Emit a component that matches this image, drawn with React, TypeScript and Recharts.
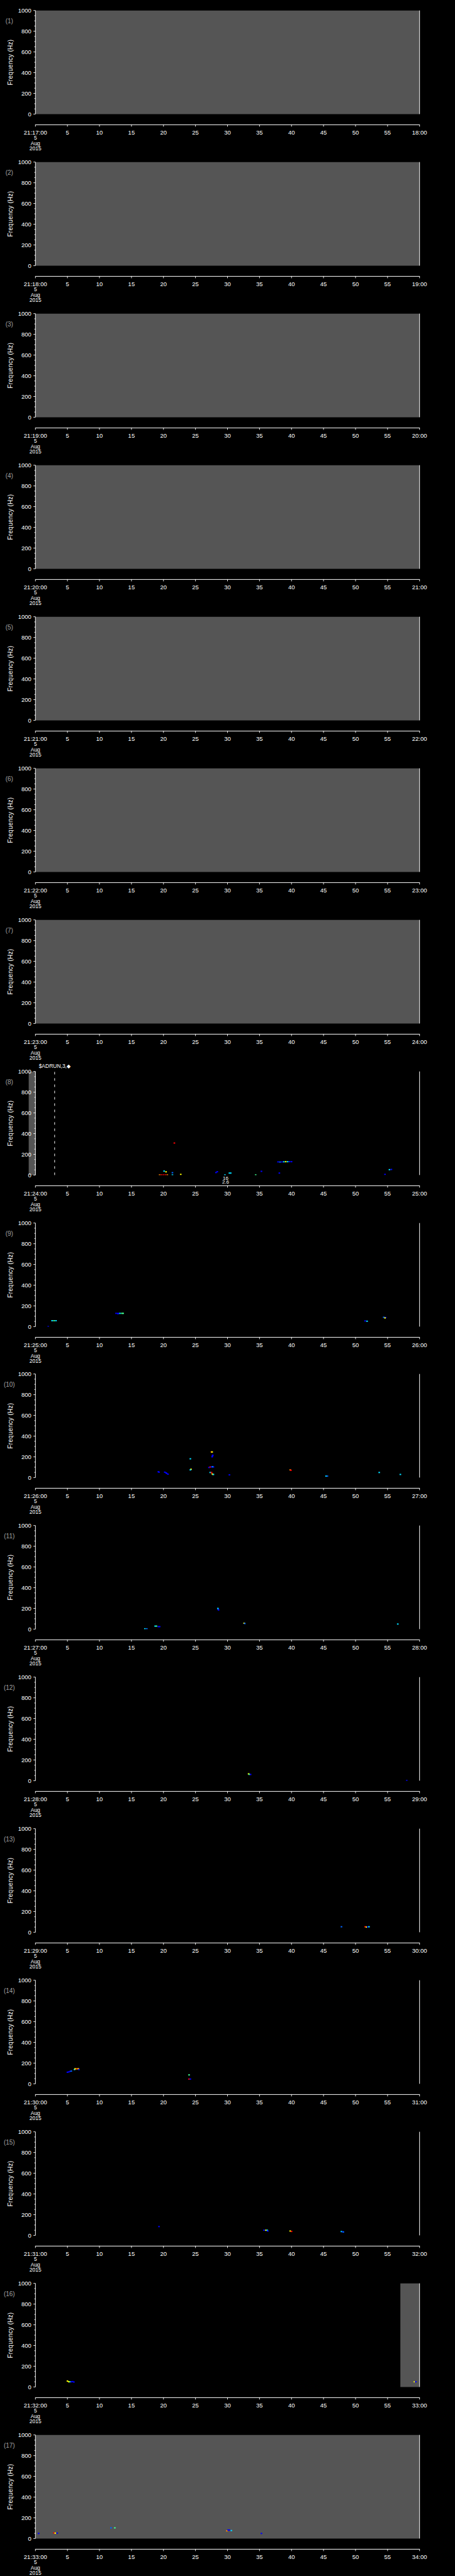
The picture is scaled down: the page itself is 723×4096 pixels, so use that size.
import React from 'react';
import { ScatterChart, Scatter, XAxis, YAxis, ReferenceArea, ReferenceLine } from 'recharts';

const W = 723;
const PANEL_H = 4096 / 17;
const FONT = '"Liberation Sans", Arial, sans-serif';
const PLOT_TOP = 16.7;
const PLOT_H = 164.7;
const PLOT_LEFT = 56.3;
const PLOT_RIGHT = 666.7;
const AXIS_GAP = 17;

const panelMinutes = [17, 18, 19, 20, 21, 22, 23, 24, 25, 26, 27, 28, 29, 30, 31, 32, 33];
const grayPanels = [1, 2, 3, 4, 5, 6, 7, 17];
const xTicks = [0, 5, 10, 15, 20, 25, 30, 35, 40, 45, 50, 55, 60];
const yTicks = [0, 50, 100, 150, 200, 250, 300, 350, 400, 450, 500, 550, 600, 650, 700, 750, 800, 850, 900, 950, 1000];
const yLabelTicks = [0, 200, 400, 600, 800, 1000];
const dateLines = ['5', 'Aug', '2015'];
const intensityColors = ['#000000', '#0000ff', '#0064ff', '#00dcff', '#40ff90', '#ffff00', '#ff8000', '#ff0000'];

// partial no-data (gray) spans in seconds
const panel8Gap = { t1: -1.05, t2: 0 };
const panel16Gap = { t1: 57, t2: 60 };
// panel 8 annotations
const panel8Marker = { t: 3.0, text: '$ADRUN,3,\u25C6' };
const panel8Note = { t: 29.7, lines: ['16', '2.6'] };

type Dot = { t: number; f: number; v: number };

const p8Dots: Dot[] = [
  { t: 21.7, f: 309, v: 7 },
  { t: 19.4, f: 1, v: 6 }, { t: 19.7, f: 1, v: 7 }, { t: 20.0, f: 1, v: 7 }, { t: 20.3, f: 1, v: 7 }, { t: 20.6, f: 1, v: 6 },
  { t: 21.4, f: 1, v: 3 },
  { t: 20.1, f: 38, v: 3 }, { t: 20.4, f: 31, v: 5 },
  { t: 21.4, f: 23, v: 2 },
  { t: 22.7, f: 6, v: 5 },
  { t: 28.2, f: 24, v: 1 }, { t: 28.4, f: 32, v: 1 },
  { t: 29.6, f: 1, v: 3 },
  { t: 30.3, f: 19, v: 3 }, { t: 30.5, f: 19, v: 3 },
  { t: 34.4, f: 1, v: 4 },
  { t: 35.3, f: 36, v: 1 },
  { t: 38.1, f: 19, v: 1 },
  { t: 37.9, f: 127, v: 1 }, { t: 38.2, f: 126, v: 2 }, { t: 38.5, f: 127, v: 1 }, { t: 38.8, f: 128, v: 3 },
  { t: 39.1, f: 129, v: 5 }, { t: 39.4, f: 129, v: 3 }, { t: 39.7, f: 129, v: 1 }, { t: 40.0, f: 129, v: 1 },
  { t: 54.6, f: 6, v: 1 },
  { t: 55.3, f: 52, v: 3 }, { t: 55.6, f: 54, v: 1 },
];

const p9Dots: Dot[] = [
  { t: 2.0, f: 0, v: 1 },
  { t: 2.6, f: 57, v: 3 }, { t: 2.9, f: 57, v: 4 }, { t: 3.2, f: 57, v: 3 },
  { t: 12.6, f: 128, v: 1 }, { t: 12.9, f: 128, v: 1 }, { t: 12.9, f: 124, v: 1 }, { t: 13.2, f: 128, v: 3 },
  { t: 13.5, f: 128, v: 4 }, { t: 13.7, f: 128, v: 4 },
  { t: 51.5, f: 55, v: 1 }, { t: 51.8, f: 52, v: 3 },
  { t: 54.4, f: 90, v: 2 }, { t: 54.7, f: 88, v: 1 }, { t: 54.6, f: 84, v: 5 },
];

const p10Dots: Dot[] = [
  { t: 19.2, f: 56, v: 1 }, { t: 19.3, f: 52, v: 1 },
  { t: 20.2, f: 52, v: 1 }, { t: 20.4, f: 46, v: 1 }, { t: 20.5, f: 40, v: 1 }, { t: 20.7, f: 33, v: 1 },
  { t: 24.2, f: 181, v: 3 },
  { t: 24.3, f: 80, v: 5 }, { t: 24.2, f: 74, v: 3 },
  { t: 27.1, f: 97, v: 1 }, { t: 27.3, f: 102, v: 7 }, { t: 27.5, f: 103, v: 1 }, { t: 27.7, f: 104, v: 3 }, { t: 27.8, f: 102, v: 1 },
  { t: 27.5, f: 247, v: 6 }, { t: 27.6, f: 247, v: 5 },
  { t: 27.6, f: 200, v: 1 }, { t: 27.65, f: 208, v: 1 }, { t: 27.7, f: 216, v: 1 },
  { t: 27.3, f: 49, v: 3 }, { t: 27.5, f: 49, v: 7 },
  { t: 27.6, f: 36, v: 6 }, { t: 27.7, f: 31, v: 5 }, { t: 27.8, f: 30, v: 3 },
  { t: 30.3, f: 26, v: 1 },
  { t: 39.8, f: 74, v: 6 }, { t: 39.9, f: 70, v: 7 },
  { t: 45.4, f: 14, v: 3 }, { t: 45.6, f: 14, v: 2 },
  { t: 53.7, f: 49, v: 3 },
  { t: 57.0, f: 30, v: 3 },
];

const p11Dots: Dot[] = [
  { t: 17.1, f: 3, v: 3 }, { t: 17.4, f: 3, v: 2 },
  { t: 18.7, f: 29, v: 3 }, { t: 18.9, f: 29, v: 4 },
  { t: 19.2, f: 24, v: 1 }, { t: 19.4, f: 24, v: 1 },
  { t: 28.5, f: 200, v: 3 }, { t: 28.55, f: 192, v: 2 }, { t: 28.6, f: 185, v: 1 },
  { t: 32.6, f: 57, v: 5 }, { t: 32.7, f: 54, v: 2 },
  { t: 56.6, f: 49, v: 3 },
];

const p12Dots: Dot[] = [
  { t: 33.3, f: 66, v: 5 }, { t: 33.4, f: 61, v: 4 }, { t: 33.6, f: 60, v: 1 },
  { t: 58.0, f: 1, v: 1 },
];

const p13Dots: Dot[] = [
  { t: 47.8, f: 53, v: 2 },
  { t: 51.5, f: 53, v: 7 }, { t: 51.7, f: 50, v: 5 }, { t: 51.9, f: 52, v: 1 }, { t: 52.1, f: 53, v: 3 },
];

const p14Dots: Dot[] = [
  { t: 5.0, f: 112, v: 1 }, { t: 5.2, f: 115, v: 1 }, { t: 5.4, f: 120, v: 1 }, { t: 5.6, f: 123, v: 2 },
  { t: 6.1, f: 138, v: 3 }, { t: 6.2, f: 145, v: 5 }, { t: 6.4, f: 145, v: 6 }, { t: 6.6, f: 145, v: 7 },
  { t: 6.7, f: 145, v: 5 }, { t: 6.8, f: 138, v: 1 },
  { t: 24.0, f: 86, v: 4 },
  { t: 24.0, f: 46, v: 7 }, { t: 24.2, f: 46, v: 1 },
];

const p15Dots: Dot[] = [
  { t: 19.3, f: 85, v: 1 },
  { t: 35.7, f: 50, v: 1 }, { t: 36.0, f: 50, v: 5 }, { t: 36.2, f: 50, v: 3 }, { t: 36.3, f: 42, v: 1 },
  { t: 39.8, f: 42, v: 5 }, { t: 40.0, f: 38, v: 7 },
  { t: 47.8, f: 37, v: 3 }, { t: 48.0, f: 35, v: 1 }, { t: 48.1, f: 33, v: 2 },
];

const p16Dots: Dot[] = [
  { t: 5.0, f: 57, v: 5 }, { t: 5.2, f: 50, v: 5 }, { t: 5.4, f: 50, v: 4 }, { t: 5.6, f: 50, v: 1 },
  { t: 5.8, f: 52, v: 1 }, { t: 6.0, f: 48, v: 1 },
  { t: 59.2, f: 50, v: 5 }, { t: 59.4, f: 50, v: 1 },
];

const p17Dots: Dot[] = [
  { t: 0.5, f: 49, v: 1 },
  { t: 2.9, f: 54, v: 7 }, { t: 3.1, f: 52, v: 5 }, { t: 3.4, f: 52, v: 1 },
  { t: 11.8, f: 103, v: 2 }, { t: 12.4, f: 103, v: 4 },
  { t: 29.9, f: 74, v: 6 }, { t: 30.1, f: 82, v: 1 }, { t: 30.3, f: 82, v: 1 }, { t: 30.6, f: 77, v: 3 },
  { t: 35.3, f: 49, v: 1 },
];

const panelDots: Record<number, Dot[]> = {
  8: p8Dots, 9: p9Dots, 10: p10Dots, 11: p11Dots, 12: p12Dots, 13: p13Dots,
  14: p14Dots, 15: p15Dots, 16: p16Dots, 17: p17Dots,
};

const PixelShape = (props: any) => {
  const { cx, cy, payload } = props;
  if (cx == null || cy == null) return null;
  return <rect x={cx - 1.3} y={cy - 1} width={2.6} height={2} fill={intensityColors[payload.v]} />;
};

const LeftTick = (props: any) => {
  const { x, y, payload } = props;
  const major = yLabelTicks.includes(payload.value);
  return (
    <g>
      <line x1={x} x2={x - (major ? 3.2 : 1.8)} y1={y} y2={y} stroke="#fff" strokeWidth={0.9} />
      {major && (
        <text x={x - 6.5} y={y} dy="0.36em" textAnchor="end" fill="#fff" fontSize={9.5} fontFamily={FONT}>
          {payload.value}
        </text>
      )}
    </g>
  );
};

const RightTick = (props: any) => {
  const { x, y, payload } = props;
  const major = yLabelTicks.includes(payload.value);
  return <line x1={x} x2={x - (major ? 3.2 : 1.8)} y1={y} y2={y} stroke="#fff" strokeWidth={0.9} />;
};

const X_STEP = (PLOT_RIGHT - PLOT_LEFT) / (xTicks.length - 1);

const makeXTick = (minute: number) => (props: any) => {
  const { x, y, payload, index } = props;
  const v = payload.value;
  const ay = y + AXIS_GAP;
  const label = v === 0 ? `21:${minute}:00` : v === 60 ? `${minute + 1}:00` : String(v);
  const isLast = index === xTicks.length - 1;
  return (
    <g>
      {!isLast && <line x1={x - 0.45} x2={x + X_STEP + 0.45} y1={ay} y2={ay} stroke="#fff" strokeWidth={1} />}
      <line x1={x} x2={x} y1={ay} y2={ay + 3} stroke="#fff" strokeWidth={0.9} />
      <text x={x} y={ay + 12.2} dy="0.36em" textAnchor="middle" fill="#fff" fontSize={9.5} fontFamily={FONT}>
        {label}
      </text>
      {v === 0 &&
        dateLines.map((d, i) => (
          <text key={i} x={x} y={ay + 20.8 + i * 8.4} dy="0.36em" textAnchor="middle" fill="#fff" fontSize={8.5} fontFamily={FONT}>
            {d}
          </text>
        ))}
    </g>
  );
};

const makeYLabel = (n: number) => (props: any) => {
  const vb = props.viewBox || {};
  const top = vb.y ?? PLOT_TOP;
  const h = vb.height ?? PLOT_H;
  const cy = top + h / 2;
  return (
    <g>
      <text x={14.8} y={top + 16.8} dy="0.36em" textAnchor="middle" fill="#a0a0a0" fontSize={10} fontFamily={FONT}>
        {`(${n})`}
      </text>
      <text
        x={16.1}
        y={cy}
        dy="0.36em"
        textAnchor="middle"
        fill="#fff"
        fontSize={10}
        fontFamily={FONT}
        letterSpacing={0.3}
        transform={`rotate(-90 16.1 ${cy})`}
      >
        Frequency (Hz)
      </text>
    </g>
  );
};

const Panel = ({ idx }: { idx: number }) => {
  const n = idx + 1;
  const minute = panelMinutes[idx];
  const dots = panelDots[n] || [];
  const gray = grayPanels.includes(n);
  return (
    <div style={{ position: 'absolute', left: 0, top: idx * PANEL_H, width: W, height: PANEL_H }}>
      <ScatterChart
        width={W}
        height={PANEL_H}
        margin={{ top: PLOT_TOP, right: W - PLOT_RIGHT - 1, bottom: 0, left: 0 }}
      >
        <XAxis
          xAxisId="main"
          type="number"
          dataKey="t"
          domain={[0, 60]}
          ticks={xTicks}
          interval={0}
          allowDataOverflow
          height={PANEL_H - PLOT_TOP - PLOT_H}
          tickSize={0}
          tickMargin={0}
          tickLine={false}
          axisLine={false}
          tick={makeXTick(minute)}
        />
        <YAxis
          yAxisId="left"
          type="number"
          dataKey="f"
          domain={[0, 1000]}
          ticks={yTicks}
          interval={0}
          allowDataOverflow
          width={PLOT_LEFT}
          tickSize={0}
          tickMargin={0}
          tickLine={false}
          axisLine={{ stroke: '#fff', strokeWidth: 1 }}
          tick={LeftTick}
          label={{ content: makeYLabel(n) }}
        />
        <YAxis
          yAxisId="right"
          orientation="right"
          type="number"
          domain={[0, 1000]}
          ticks={yTicks}
          interval={0}
          width={1}
          tickSize={0}
          tickMargin={0}
          tickLine={false}
          axisLine={{ stroke: '#fff', strokeWidth: 1 }}
          tick={RightTick}
        />
        {gray && (
          <ReferenceArea xAxisId="main" yAxisId="left" x1={0} x2={60} y1={0} y2={1000} fill="#555555" fillOpacity={1} stroke="none" ifOverflow="visible" />
        )}
        {n === 8 && (
          <ReferenceArea xAxisId="main" yAxisId="left" x1={panel8Gap.t1} x2={panel8Gap.t2} y1={0} y2={1000} fill="#555555" fillOpacity={1} stroke="none" ifOverflow="visible" />
        )}
        {n === 16 && (
          <ReferenceArea xAxisId="main" yAxisId="left" x1={panel16Gap.t1} x2={panel16Gap.t2} y1={0} y2={1000} fill="#555555" fillOpacity={1} stroke="none" ifOverflow="visible" />
        )}
        {n === 8 && (
          <ReferenceLine
            xAxisId="main"
            yAxisId="left"
            x={panel8Marker.t}
            stroke="#fff"
            strokeWidth={1}
            strokeDasharray="4 6"
            ifOverflow="visible"
            label={{
              content: (p: any) => {
                const vb = p.viewBox || {};
                return (
                  <text x={vb.x} y={(vb.y ?? PLOT_TOP) - 5.5} textAnchor="middle" fill="#fff" fontSize={8.5} fontFamily={FONT}>
                    {panel8Marker.text}
                  </text>
                );
              },
            }}
          />
        )}
        {n === 8 && (
          <ReferenceLine
            xAxisId="main"
            yAxisId="left"
            x={panel8Note.t}
            stroke="#000"
            strokeOpacity={0}
            ifOverflow="visible"
            label={{
              content: (p: any) => {
                const vb = p.viewBox || {};
                const bottom = (vb.y ?? PLOT_TOP) + (vb.height ?? PLOT_H);
                return (
                  <g>
                    {panel8Note.lines.map((l, i) => (
                      <text key={i} x={vb.x} y={bottom + 4.4 + i * 6.6} dy="0.36em" textAnchor="middle" fill="#fff" fontSize={8} fontFamily={FONT}>
                        {l}
                      </text>
                    ))}
                  </g>
                );
              },
            }}
          />
        )}
        <Scatter data={dots} xAxisId="main" yAxisId="left" dataKey="f" shape={PixelShape} isAnimationActive={false} />
      </ScatterChart>
    </div>
  );
}

export default function App() {
  return (
    <div style={{ position: 'relative', width: W, height: 4096, background: '#000', fontFamily: FONT }}>
      <style>{'body{margin:0;background:#000;}'}</style>
      {panelMinutes.map((_, i) => (
        <Panel key={i} idx={i} />
      ))}
    </div>
  );
}
